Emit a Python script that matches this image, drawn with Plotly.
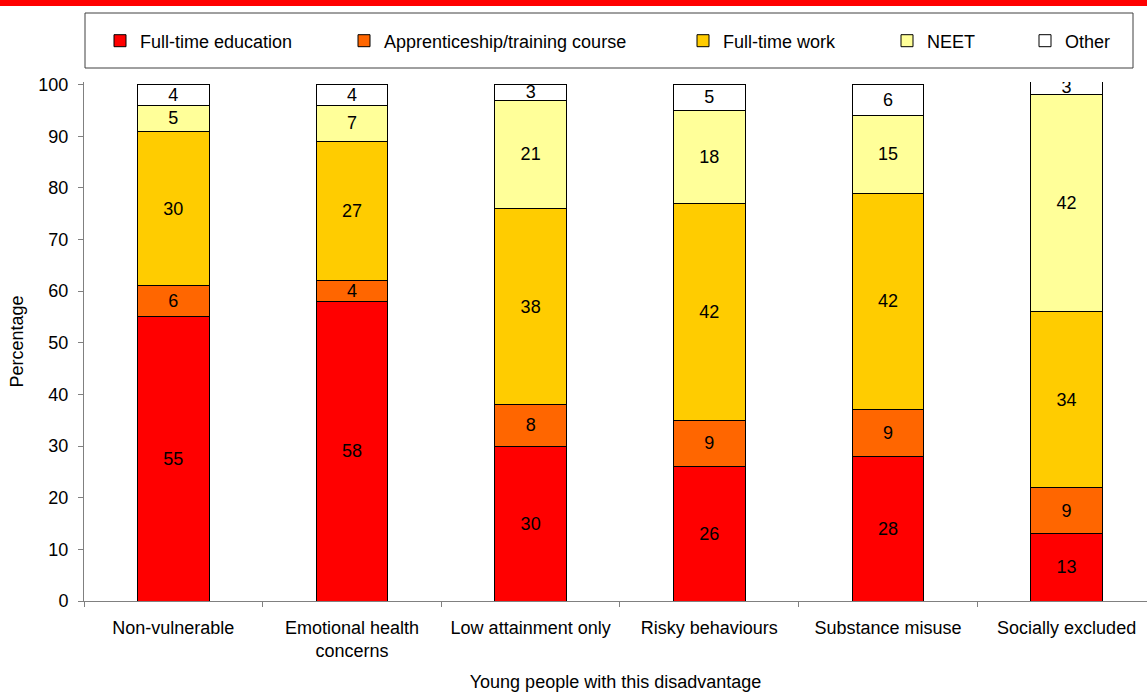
import plotly.graph_objects as go

categories = ["Non-vulnerable", "Emotional health<br>concerns", "Low attainment only",
              "Risky behaviours", "Substance misuse", "Socially excluded"]
series_names = ["Full-time education", "Apprenticeship/training course",
                "Full-time work", "NEET", "Other"]
full_time_education = [55, 58, 30, 26, 28, 13]
apprenticeship = [6, 4, 8, 9, 9, 9]
full_time_work = [30, 27, 38, 42, 42, 34]
neet = [5, 7, 21, 18, 15, 42]
other = [4, 4, 3, 5, 6, 3]

series_values = [full_time_education, apprenticeship, full_time_work, neet, other]
colors = ["#FF0000", "#FF6600", "#FFCC00", "#FFFF99", "#FFFFFF"]

FONT = "Liberation Sans, Arial, sans-serif"
W, H = 1147, 692
ML, MR, MT, MB = 84, 0, 82, 91
PW = W - ML - MR
PH = H - MT - MB

def px_x(p):
    return (p - ML) / PW

def px_y(p):
    return (H - MB - p) / PH

fig = go.Figure()
legend_keys = ["legend", "legend2", "legend3", "legend4", "legend5"]
text_starts = [140, 384, 723, 927, 1065]

for name, vals, col, lk in zip(series_names, series_values, colors, legend_keys):
    fig.add_trace(go.Bar(
        x=categories, y=vals, name=name, legend=lk,
        marker=dict(color=col, line=dict(color="#000000", width=1)),
        width=0.4,
        text=vals, texttemplate="%{text}",
        textposition="inside", insidetextanchor="middle", textangle=0,
        textfont=dict(color="#000000", size=18, family=FONT),
    ))

layout_legends = {}
for lk, ts in zip(legend_keys, text_starts):
    layout_legends[lk] = dict(
        x=px_x(ts - 40), xanchor="left",
        y=px_y(41), yanchor="middle",
        orientation="h", bgcolor="rgba(0,0,0,0)", borderwidth=0,
        font=dict(size=18, family=FONT, color="#000000"),
        itemwidth=30,
    )

fig.update_layout(
    width=W, height=H,
    margin=dict(l=ML, r=MR, t=MT, b=MB),
    barmode="stack",
    plot_bgcolor="#FFFFFF", paper_bgcolor="#FFFFFF",
    font=dict(family=FONT, size=18, color="#000000"),
    uniformtext=dict(minsize=18, mode="show"),
    showlegend=True,
    **layout_legends,
)

fig.update_xaxes(
    range=[-0.5, 5.45], showline=True, linecolor="#808080", linewidth=1,
    ticks="outside", tickson="boundaries", ticklen=5, tickcolor="#808080",
    showgrid=False, tickfont=dict(size=18, family=FONT), ticklabelstandoff=10,
    title=dict(text="Young people with this disadvantage", font=dict(size=18, family=FONT), standoff=15),
)
fig.update_yaxes(
    range=[0, 100.5], dtick=10, showline=True, linecolor="#808080", linewidth=1,
    ticks="outside", ticklen=5, tickcolor="#808080", showgrid=False, zeroline=False,
    tickfont=dict(size=18, family=FONT), ticklabelstandoff=6,
    title=dict(text="Percentage", font=dict(size=18, family=FONT), standoff=10),
)

# red band across the top
fig.add_shape(type="rect", xref="paper", yref="paper",
              x0=px_x(-5), x1=px_x(W + 5), y0=px_y(6), y1=px_y(-5),
              fillcolor="#FF0000", line=dict(width=0), layer="above")
# legend frame
fig.add_shape(type="rect", xref="paper", yref="paper",
              x0=px_x(85), x1=px_x(1133), y0=px_y(68), y1=px_y(13),
              fillcolor="rgba(0,0,0,0)", line=dict(color="#404040", width=1))

fig.write_html("out.html",
               config={"displayModeBar": False},
               post_script="document.body.style.margin='0';document.body.style.overflow='hidden';")
